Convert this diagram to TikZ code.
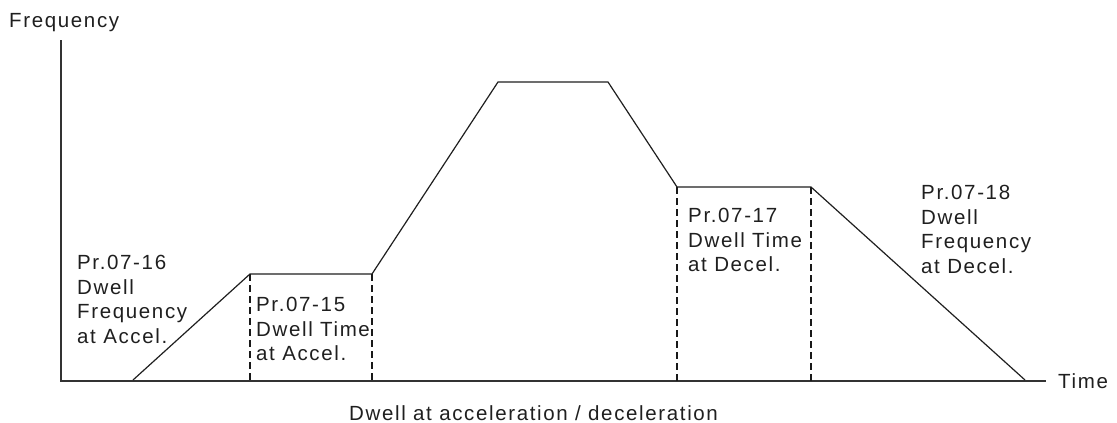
\documentclass[tikz,border=0pt]{standalone}
\usepackage{fontspec}
\setmainfont{Liberation Sans}[LetterSpace=8]
\begin{document}
\begin{tikzpicture}[x=1pt,y=-1pt,
  lbl/.style={font=\fontsize{20.5}{24.7}\selectfont, align=left, inner sep=0pt, anchor=north west, text=black!88},
  axis/.style={line width=1.4pt, black!80},
  curve/.style={line width=1.2pt, black!88},
  dwell/.style={line width=1.6pt, black!90, dash pattern=on 7pt off 4pt}]
\useasboundingbox (0,0) rectangle (1117,423);
% axes
\coordinate (O) at (61,381);
\coordinate (ytop) at (61,40);
\coordinate (xend) at (1046,381);
\draw[axis] (ytop) -- (O) -- (xend);
% curve points
\coordinate (p0) at (133,380);
\coordinate (p1) at (250,274);
\coordinate (p2) at (372,274);
\coordinate (p3) at (498,82);
\coordinate (p4) at (608,82);
\coordinate (p5) at (677,187);
\coordinate (p6) at (811,187);
\coordinate (p7) at (1025,380);
\draw[curve, line join=miter] (p0) -- (p1) -- (p2) -- (p3) -- (p4) -- (p5) -- (p6) -- (p7);
% dwell markers
\draw[dwell] (p1) -- (p1 |- O);
\draw[dwell] (p2) -- (p2 |- O);
\draw[dwell] (p5) -- (p5 |- O);
\draw[dwell] (p6) -- (p6 |- O);
% labels
\node[lbl] (freq) at (9,13) {Frequency};
\node[lbl] (time) at (1058,373) {Time};
\node[lbl] (a16) at (77,255) {Pr.07-16\\Dwell\\Frequency\\at Accel.};
\node[lbl] (a15) at (256,297) {Pr.07-15\\Dwell Time\\at Accel.};
\node[lbl] (a17) at (688,208) {Pr.07-17\\Dwell Time\\at Decel.};
\node[lbl] (a18) at (921,185) {Pr.07-18\\Dwell\\Frequency\\at Decel.};
\node[lbl] (cap) at (349,405) {Dwell at acceleration / deceleration};
\end{tikzpicture}
\end{document}
